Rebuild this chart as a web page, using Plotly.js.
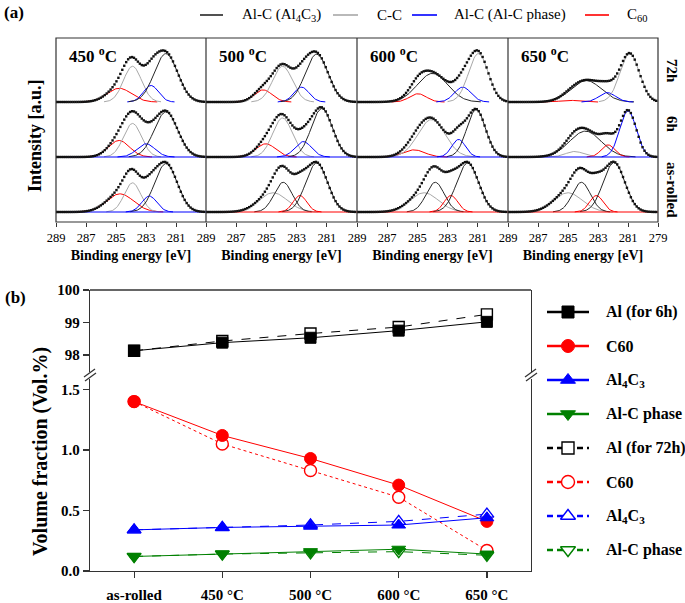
<!DOCTYPE html>
<html><head><meta charset="utf-8">
<script src="https://cdn.plot.ly/plotly-3.0.1.min.js"></script>
<style>html,body{margin:0;padding:0;background:#fff}#chart{width:685px;height:603px}</style>
</head><body><div id="chart"></div>
<script>
const W = 685, H = 603;
const px = x => x / W, py = y => 1 - y / H;
const SERIF = 'Liberation Serif';

// ---------------- Panel (a) data ----------------
const panelTemps = ['450 <sup>o</sup>C', '500 <sup>o</sup>C', '600 <sup>o</sup>C', '650 <sup>o</sup>C'];
const rowLabels = ['72h', '6h', 'as-rolled'];
const energyRange = [289, 279];
const tickValsInner = [289, 287, 285, 283, 281];
const tickValsLast = [289, 287, 285, 283, 281, 279];
const legendA = ['Al-C (Al<sub>4</sub>C<sub>3</sub>)', 'C-C', 'Al-C (Al-C phase)', 'C<sub>60</sub>'];

// fitted peaks: [component, centre eV, height a.u., sigma eV]
const peaks450_72h = [['C60', 284.78, 0.25, 0.8], ['CC', 283.9, 0.65, 0.6], ['AlC', 282.67, 0.30, 0.5], ['Al4C3', 281.67, 0.88, 0.78]];
const peaks450_6h = [['C60', 284.8, 0.30, 0.7], ['CC', 283.9, 0.61, 0.6], ['AlC', 283.0, 0.24, 0.6], ['Al4C3', 281.67, 0.82, 0.78]];
const peaks450_ar = [['C60', 284.73, 0.33, 0.9], ['CC', 283.9, 0.53, 0.55], ['AlC', 282.78, 0.29, 0.5], ['Al4C3', 281.67, 0.88, 0.75]];
const peaks500_72h = [['C60', 285.22, 0.22, 0.6], ['CC', 283.93, 0.65, 0.65], ['AlC', 282.67, 0.27, 0.5], ['Al4C3', 281.67, 0.87, 0.75]];
const peaks500_6h = [['C60', 285.04, 0.24, 0.65], ['CC', 283.93, 0.71, 0.65], ['AlC', 282.56, 0.28, 0.55], ['Al4C3', 281.33, 0.88, 0.7]];
const peaks500_ar = [['CC', 284.56, 0.35, 0.95], ['Al4C3', 283.89, 0.54, 0.6], ['C60', 282.78, 0.30, 0.45], ['Al4C3', 281.67, 0.89, 0.72]];
const peaks600_72h = [['C60', 284.96, 0.15, 0.55], ['Al4C3', 284.0, 0.52, 1.0], ['AlC', 282.0, 0.27, 0.55], ['CC', 280.96, 0.88, 0.65]];
const peaks600_6h = [['C60', 285.22, 0.13, 0.7], ['CC', 284.07, 0.68, 0.9], ['AlC', 282.27, 0.32, 0.45], ['Al4C3', 281.11, 0.86, 0.62]];
const peaks600_ar = [['CC', 284.56, 0.35, 0.95], ['Al4C3', 283.82, 0.54, 0.6], ['C60', 282.78, 0.30, 0.45], ['Al4C3', 281.67, 0.89, 0.72]];
const peaks650_72h = [['C60', 284.89, 0.03, 0.6], ['Al4C3', 283.78, 0.39, 1.0], ['AlC', 282.38, 0.17, 0.55], ['CC', 280.89, 0.88, 0.65]];
const peaks650_6h = [['CC', 284.56, 0.10, 0.6], ['Al4C3', 283.84, 0.47, 1.05], ['C60', 282.33, 0.22, 0.45], ['AlC', 281.0, 0.84, 0.55]];
const peaks650_ar = [['CC', 285.0, 0.35, 0.95], ['Al4C3', 284.11, 0.54, 0.6], ['C60', 283.11, 0.30, 0.45], ['Al4C3', 281.93, 0.90, 0.72]];
// component whose colour covers the whole baseline of a row (72h, 6h, as-rolled)
const baseline450 = [null, 'AlC', 'AlC'];
const baseline500 = [null, 'AlC', 'C60'];
const baseline600 = [null, 'AlC', 'C60'];
const baseline650 = [null, 'AlC', 'C60'];

// ---------------- Panel (b) data ----------------
const conditions = ['as-rolled', '450 °C', '500 °C', '600 °C', '650 °C'];
const al6h = [98.13, 98.38, 98.53, 98.75, 99.02];
const al72h = [98.13, 98.43, 98.66, 98.86, 99.25];
const c60_6h = [1.40, 1.12, 0.93, 0.71, 0.41];
const c60_72h = [1.40, 1.05, 0.83, 0.61, 0.17];
const al4c3_6h = [0.34, 0.36, 0.37, 0.38, 0.44];
const al4c3_72h = [0.34, 0.36, 0.38, 0.41, 0.47];
const alc_6h = [0.12, 0.14, 0.16, 0.18, 0.14];
const alc_72h = [0.12, 0.14, 0.15, 0.16, 0.13];
const legendB = ['Al (for 6h)', 'C60', 'Al<sub>4</sub>C<sub>3</sub>', 'Al-C phase',
                 'Al (for 72h)', 'C60', 'Al<sub>4</sub>C<sub>3</sub>', 'Al-C phase'];

// ---------------- styles ----------------
const compColor = {Al4C3: '#262626', CC: '#a8a8a8', AlC: '#0000ff', C60: '#ff0000'};
const panels = [
  [[peaks450_72h, peaks450_6h, peaks450_ar], baseline450],
  [[peaks500_72h, peaks500_6h, peaks500_ar], baseline500],
  [[peaks600_72h, peaks600_6h, peaks600_ar], baseline600],
  [[peaks650_72h, peaks650_6h, peaks650_ar], baseline650]
];
const panelLeft = [56, 206, 357, 508], panelRight = [206, 357, 508, 658];
const rowOffset = [2, 1, 0];

const traces = [];
const gauss = (e, p) => p[2] * Math.exp(-((e - p[1]) ** 2) / (2 * p[3] * p[3]));
const fineE = []; for (let i = 0; i <= 200; i++) fineE.push(energyRange[0] - i * 0.05);
const dotE = []; for (let i = 0; i <= 76; i++) dotE.push(energyRange[0] - i * 0.13);

panels.forEach((pan, pi) => {
  const xa = pi === 0 ? 'x' : 'x' + (pi + 1);
  pan[0].forEach((peaks, ri) => {
    const off = rowOffset[ri];
    peaks.forEach(p => {
      const es = fineE.filter(e => Math.abs(e - p[1]) <= 3.2 * p[3]);
      traces.push({x: es, y: es.map(e => off + gauss(e, p)), xaxis: xa, yaxis: 'y', mode: 'lines',
        line: {color: compColor[p[0]], width: 1}, showlegend: false, hoverinfo: 'skip'});
    });
    const bc = pan[1][ri];
    if (bc) traces.push({x: energyRange, y: [off, off], xaxis: xa, yaxis: 'y', mode: 'lines',
      line: {color: compColor[bc], width: 1.2}, showlegend: false, hoverinfo: 'skip'});
    traces.push({x: dotE, y: dotE.map(e => off + peaks.reduce((s, p) => s + gauss(e, p), 0)),
      xaxis: xa, yaxis: 'y', mode: 'markers', marker: {symbol: 'square', size: 2.4, color: '#111'},
      showlegend: false, hoverinfo: 'skip'});
  });
});

// panel (b) traces
const xi = conditions.map((c, i) => i);
const seriesB = [
  // [values, axis, colour, symbol, dash, open]
  [al72h, 'y3', '#000', 'square', 'dash', true],
  [c60_72h, 'y2', '#ff0000', 'circle', 'dot', true],
  [al4c3_72h, 'y2', '#0000ff', 'triangle-up', 'dash', true],
  [alc_72h, 'y2', '#008000', 'triangle-down', 'dash', true],
  [al6h, 'y3', '#000', 'square', 'solid', false],
  [c60_6h, 'y2', '#ff0000', 'circle', 'solid', false],
  [al4c3_6h, 'y2', '#0000ff', 'triangle-up', 'solid', false],
  [alc_6h, 'y2', '#008000', 'triangle-down', 'solid', false]
];
const mk = (s, open) => ({symbol: s, size: s === 'square' ? 11 : 12, color: open ? '#fff' : undefined,
  line: {width: open ? 1.4 : 1}});
seriesB.forEach(s => {
  const m = mk(s[3], s[5]);
  m.line.color = s[2]; if (!s[5]) m.color = s[2];
  traces.push({x: xi, y: s[0], xaxis: 'x5', yaxis: s[1], mode: 'lines+markers', showlegend: false,
    line: {color: s[2], width: 1, dash: s[4]}, marker: m, hoverinfo: 'skip'});
});
// legend keys for panel (b), drawn on a pixel-scaled overlay axis
const legendOrder = [4, 5, 6, 7, 0, 1, 2, 3];
legendOrder.forEach((si, k) => {
  const s = seriesB[si];
  const yk = 312 + 34 * k;
  const dash = s[5] ? '6px,4px' : 'solid';
  traces.push({x: [547, 589], y: [yk, yk], xaxis: 'x6', yaxis: 'y4', mode: 'lines', showlegend: false,
    line: {color: s[2], width: 2.5, dash: dash}, hoverinfo: 'skip'});
  const m = mk(s[3], s[5]); m.line.color = s[2]; if (!s[5]) m.color = s[2];
  m.size += 1;
  traces.push({x: [568], y: [yk], xaxis: 'x6', yaxis: 'y4', mode: 'markers', showlegend: false,
    marker: m, hoverinfo: 'skip'});
});

// ---------------- layout ----------------
const tf = (size, bold) => ({size: size, family: SERIF, color: '#000', weight: bold ? 'bold' : 'normal'});
const layout = {
  width: W, height: H, margin: {l: 0, r: 0, t: 0, b: 0},
  paper_bgcolor: '#fff', plot_bgcolor: 'rgba(0,0,0,0)',
  font: {family: SERIF, color: '#000'},
  showlegend: false,
  yaxis: {domain: [py(222), py(38)], range: [(212 - 222) / 55, (212 - 38) / 55], anchor: 'x',
    showticklabels: false, ticks: '', showgrid: false, zeroline: false, showline: false},
  yaxis2: {domain: [py(571), py(377)], range: [0, (571 - 377) / 121], anchor: 'x5',
    tickvals: [0, 0.5, 1.0, 1.5], ticktext: ['0.0', '0.5', '1.0', '1.5'], ticks: 'outside', ticklen: 6,
    tickwidth: 1.2, tickcolor: '#333', showline: true, mirror: true, linecolor: '#333', linewidth: 1.3,
    showgrid: false, zeroline: false, tickfont: tf(15, true)},
  yaxis3: {domain: [py(377), py(290)], range: [100 - (377 - 290) / 32.5, 100], anchor: 'x5',
    tickvals: [98, 99, 100], ticks: 'outside', ticklen: 6, tickwidth: 1.2, tickcolor: '#333',
    showline: true, mirror: true, linecolor: '#333', linewidth: 1.3,
    showgrid: false, zeroline: false, tickfont: tf(15, true)},
  xaxis5: {domain: [px(90), px(531)], range: [-0.5, 4.5], anchor: 'y2', tickvals: xi, ticktext: conditions,
    ticks: 'outside', ticklen: 6, tickwidth: 1.2, tickcolor: '#333', ticklabelstandoff: 4,
    showline: true, linecolor: '#333', linewidth: 1.3, showgrid: false, zeroline: false,
    tickfont: tf(15, true)},
  xaxis6: {domain: [0, 1], range: [0, W], anchor: 'y4', visible: false, showgrid: false, zeroline: false},
  yaxis4: {domain: [0, 1], range: [H, 0], anchor: 'x6', visible: false, showgrid: false, zeroline: false},
  shapes: [], annotations: []
};
panels.forEach((pan, pi) => {
  const key = pi === 0 ? 'xaxis' : 'xaxis' + (pi + 1);
  layout[key] = {domain: [px(panelLeft[pi]), px(panelRight[pi])], range: energyRange, anchor: 'y',
    tickvals: pi === 3 ? tickValsLast : tickValsInner, ticks: 'outside', ticklen: 4, tickcolor: '#333',
    showline: false, showgrid: false, zeroline: false, tickfont: tf(12.5, false),
    title: {text: 'Binding energy [eV]', font: tf(14, true), standoff: 6}};
  layout.annotations.push({xref: 'paper', yref: 'paper', x: px(panelLeft[pi] + 11), y: py(55), xanchor: 'left',
    yanchor: 'middle', text: panelTemps[pi], showarrow: false, font: tf(17, true)});
});
const ln = (x0, y0, x1, y1, color, width) => ({type: 'line', xref: 'paper', yref: 'paper',
  x0: px(x0), y0: py(y0), x1: px(x1), y1: py(y1), line: {color: color, width: width}});
// panel (a) frame
layout.shapes.push({type: 'rect', xref: 'paper', yref: 'paper', x0: px(56), x1: px(658), y0: py(222), y1: py(38),
  line: {color: '#333', width: 1.2}});
[206, 357, 508].forEach(x => layout.shapes.push(ln(x, 38, x, 222, '#333', 1.2)));
// panel (a) legend
const legX = [[200, 223, 240], [333, 358, 375], [412, 437, 452], [585, 609, 625]];
const legC = ['Al4C3', 'CC', 'AlC', 'C60'];
legX.forEach((l, i) => {
  layout.shapes.push(ln(l[0], 15, l[1], 15, compColor[legC[i]], 1.6));
  layout.annotations.push({xref: 'paper', yref: 'paper', x: px(l[2]), y: py(15), xanchor: 'left', yanchor: 'middle',
    text: legendA[i], showarrow: false, font: tf(15, false)});
});
// panel (b) legend texts
legendB.forEach((t, k) => layout.annotations.push({xref: 'paper', yref: 'paper', x: px(604), y: py(312 + 34 * k),
  xanchor: 'left', yanchor: 'middle', text: t, showarrow: false, font: tf(16, true)}));
// panel (b) top frame line and axis breaks
layout.shapes.push(ln(90, 290, 531, 290, '#333', 1.3));
[90, 531].forEach(x => {
  layout.shapes.push(ln(x, 372, x, 379, '#fff', 3));
  layout.shapes.push(ln(x - 6, 377, x + 5, 369, '#333', 1.2));
  layout.shapes.push(ln(x - 5, 381, x + 6, 373, '#333', 1.2));
});
// texts
const ann = (x, y, text, size, bold, angle, xanchor) => layout.annotations.push({xref: 'paper', yref: 'paper',
  x: px(x), y: py(y), text: text, showarrow: false, textangle: angle || 0, xanchor: xanchor || 'center',
  yanchor: 'middle', font: tf(size, bold)});
ann(2, 12, '(a)', 17, true, 0, 'left');
ann(3, 297, '(b)', 17, true, 0, 'left');
ann(35, 136, 'Intensity [a.u.]', 18, true, -90);
ann(40, 452, 'Volume fraction (Vol.%)', 20, true, -90);
ann(672, 71, rowLabels[0], 15, true, 90);
ann(672, 124, rowLabels[1], 15, true, 90);
ann(672, 190, rowLabels[2], 15, true, 90);

Plotly.newPlot('chart', traces, layout, {staticPlot: true, displayModeBar: false});
</script></body></html>
